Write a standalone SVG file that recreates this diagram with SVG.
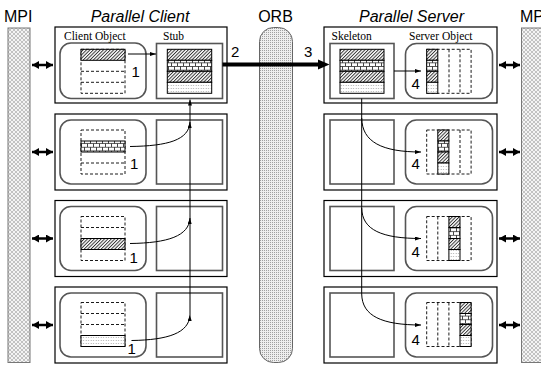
<svg xmlns="http://www.w3.org/2000/svg" width="541" height="367" viewBox="0 0 541 367">
<style>
.outer{fill:#fff;stroke:#000;stroke-width:1.2}
.inner{fill:#fff;stroke:#555;stroke-width:1.6}
.dash{fill:none;stroke:#000;stroke-width:0.9;stroke-dasharray:3 2}
.cell{stroke:#000;stroke-width:1}
.head{font-family:"Liberation Sans",Arial,sans-serif;font-size:16px;fill:#000}
.ital{font-style:italic}
.lbl{font-family:"Liberation Serif","Times New Roman",serif;font-size:11.5px;fill:#000}
.num{font-family:"Liberation Sans",Arial,sans-serif;font-size:15px;fill:#000}
.thin{fill:none;stroke:#000;stroke-width:1}
.mpiarrow{stroke:#000;stroke-width:2.5;fill:none}
</style>
<defs>
<pattern id="hatch" width="2.4" height="2.4" patternUnits="userSpaceOnUse" patternTransform="rotate(45)">
<rect width="2.4" height="2.4" fill="#fff"/><line x1="0.5" y1="0" x2="0.5" y2="2.4" stroke="#222" stroke-width="0.9"/>
</pattern>
<pattern id="brick" width="6" height="7.34" patternUnits="userSpaceOnUse">
<rect width="6" height="7.34" fill="#fff"/>
<path d="M0,0.4H6M0,4.07H6M0.5,0.4V4.07M3.5,4.07V7.34" stroke="#222" stroke-width="0.8" fill="none"/>
</pattern>
<pattern id="dots" width="2.5" height="3" patternUnits="userSpaceOnUse">
<rect width="2.5" height="3" fill="#fff"/><rect x="0.7" y="1" width="0.9" height="0.9" fill="#999"/>
</pattern>
<pattern id="mpi" width="4" height="4" patternUnits="userSpaceOnUse">
<rect width="4" height="4" fill="#f4f4f4"/>
<path d="M0,0L4,4M4,0L0,4" stroke="#a0a0a0" stroke-width="0.6"/>
</pattern>
<pattern id="orb" width="2" height="2" patternUnits="userSpaceOnUse">
<rect width="2" height="2" fill="#eeeeee"/><rect width="1" height="1" fill="#a0a0a0"/>
</pattern>
<marker id="ah" viewBox="0 0 6 4" refX="6" refY="2" markerWidth="6" markerHeight="4" markerUnits="userSpaceOnUse" orient="auto">
<path d="M0,0L6,2L0,4z" fill="#000"/>
</marker>
<marker id="dh" viewBox="0 0 7 8" refX="7" refY="4" markerWidth="7" markerHeight="8" markerUnits="userSpaceOnUse" orient="auto-start-reverse">
<path d="M0,0L7,4L0,8z" fill="#000"/>
</marker>
</defs>
<rect width="541" height="367" fill="#fff"/>

<!-- headings -->
<text class="head" x="4" y="21.5">MPI</text>
<text class="head ital" x="140" y="21.5" text-anchor="middle">Parallel Client</text>
<text class="head" x="275.5" y="21.5" text-anchor="middle">ORB</text>
<text class="head ital" x="411.5" y="21.5" text-anchor="middle">Parallel Server</text>
<text class="head" x="520" y="21.5">MPI</text>

<!-- MPI bars and ORB -->
<g id="mpi-left"><rect x="8" y="28" width="22" height="334.5" fill="url(#mpi)" stroke="#777" stroke-width="1"/></g>
<g id="mpi-right"><rect x="521.5" y="28" width="24" height="334.5" fill="url(#mpi)" stroke="#777" stroke-width="1"/></g>
<g id="orb"><rect x="259.5" y="27.5" width="33" height="335" rx="14" ry="14" fill="url(#orb)" stroke="#666" stroke-width="1"/></g>

<!-- client boxes -->
<g id="client1">
<rect class="outer" x="55" y="27" width="172" height="76"/>
<rect class="inner" x="60" y="43" width="86" height="55.5" rx="11"/>
<rect class="inner" x="156.5" y="43.5" width="66" height="55"/>
<text class="lbl" x="64" y="40">Client Object</text>
<text class="lbl" x="163" y="40">Stub</text>
<rect class="dash" x="81" y="49.3" width="44" height="44"/>
<path class="dash" d="M81,71.3H125M81,82.3H125"/>
<rect class="cell" x="81" y="49.3" width="44" height="11" fill="url(#hatch)"/>
<rect class="cell" x="167.3" y="49.3" width="44.4" height="11" fill="url(#hatch)"/>
<rect class="cell" x="167.3" y="60.3" width="44.4" height="11" fill="url(#brick)"/>
<rect class="cell" x="167.3" y="71.3" width="44.4" height="11" fill="url(#hatch)"/>
<rect class="cell" x="167.3" y="82.3" width="44.4" height="11" fill="url(#dots)"/>
<text class="num" x="131.5" y="76.5">1</text>
</g>
<g id="client2">
<rect class="outer" x="55" y="114" width="172" height="76"/>
<rect class="inner" x="60" y="120" width="86" height="64" rx="11"/>
<rect class="inner" x="156.5" y="120" width="66" height="64"/>
<rect class="dash" x="81" y="130" width="44" height="44"/>
<path class="dash" d="M81,163H125"/>
<rect class="cell" x="81" y="141" width="44" height="11" fill="url(#brick)"/>
<text class="num" x="130" y="168.5">1</text>
</g>
<g id="client3">
<rect class="outer" x="55" y="200.5" width="172" height="76"/>
<rect class="inner" x="60" y="206.5" width="86" height="64" rx="11"/>
<rect class="inner" x="156.5" y="206.5" width="66" height="64"/>
<rect class="dash" x="81" y="216.5" width="44" height="44"/>
<path class="dash" d="M81,227.5H125"/>
<rect class="cell" x="81" y="238.5" width="44" height="11" fill="url(#hatch)"/>
<text class="num" x="129.5" y="262.5">1</text>
</g>
<g id="client4">
<rect class="outer" x="55" y="287" width="172" height="76"/>
<rect class="inner" x="60" y="293" width="86" height="64" rx="11"/>
<rect class="inner" x="156.5" y="293" width="66" height="64"/>
<rect class="dash" x="81" y="302.5" width="44" height="44"/>
<path class="dash" d="M81,313.5H125M81,324.5H125"/>
<rect class="cell" x="81" y="335.5" width="44" height="11" fill="url(#dots)"/>
<text class="num" x="127.5" y="354">1</text>
</g>

<!-- server boxes -->
<g id="server1">
<rect class="outer" x="324" y="27" width="173" height="76"/>
<rect class="inner" x="330" y="43.5" width="64" height="55"/>
<rect class="inner" x="405.5" y="43.5" width="87" height="55" rx="11"/>
<text class="lbl" x="331.5" y="40">Skeleton</text>
<text class="lbl" x="409" y="40">Server Object</text>
<rect class="cell" x="340" y="49.3" width="44" height="11" fill="url(#hatch)"/>
<rect class="cell" x="340" y="60.3" width="44" height="11" fill="url(#brick)"/>
<rect class="cell" x="340" y="71.3" width="44" height="11" fill="url(#hatch)"/>
<rect class="cell" x="340" y="82.3" width="44" height="11" fill="url(#dots)"/>
<rect class="dash" x="426.7" y="49.3" width="44.4" height="44"/>
<path class="dash" d="M449,49.3V93.3M460,49.3V93.3"/>
<rect class="cell" x="426.7" y="49.3" width="11.1" height="11" fill="url(#hatch)"/>
<rect class="cell" x="426.7" y="60.3" width="11.1" height="11" fill="url(#brick)"/>
<rect class="cell" x="426.7" y="71.3" width="11.1" height="11" fill="url(#hatch)"/>
<rect class="cell" x="426.7" y="82.3" width="11.1" height="11" fill="url(#dots)"/>
<text class="num" x="411.5" y="88.5">4</text>
</g>
<g id="server2">
<rect class="outer" x="324" y="114" width="173" height="76"/>
<rect class="inner" x="330" y="120" width="64" height="64"/>
<rect class="inner" x="405.5" y="120" width="87" height="64" rx="11"/>
<rect class="dash" x="426.7" y="130" width="44.4" height="44"/>
<path class="dash" d="M460,130V174"/>
<rect class="cell" x="437.8" y="130" width="11.1" height="11" fill="url(#hatch)"/>
<rect class="cell" x="437.8" y="141" width="11.1" height="11" fill="url(#brick)"/>
<rect class="cell" x="437.8" y="152" width="11.1" height="11" fill="url(#hatch)"/>
<rect class="cell" x="437.8" y="163" width="11.1" height="11" fill="url(#dots)"/>
<text class="num" x="411.5" y="168.5">4</text>
</g>
<g id="server3">
<rect class="outer" x="324" y="200.5" width="173" height="76"/>
<rect class="inner" x="330" y="206.5" width="64" height="64"/>
<rect class="inner" x="405.5" y="206.5" width="87" height="64" rx="11"/>
<rect class="dash" x="426.7" y="216.5" width="44.4" height="44"/>
<path class="dash" d="M437.8,216.5V260.5"/>
<rect class="cell" x="448.9" y="216.5" width="11.1" height="11" fill="url(#hatch)"/>
<rect class="cell" x="448.9" y="227.5" width="11.1" height="11" fill="url(#brick)"/>
<rect class="cell" x="448.9" y="238.5" width="11.1" height="11" fill="url(#hatch)"/>
<rect class="cell" x="448.9" y="249.5" width="11.1" height="11" fill="url(#dots)"/>
<text class="num" x="411.5" y="256.5">4</text>
</g>
<g id="server4">
<rect class="outer" x="324" y="287" width="173" height="76"/>
<rect class="inner" x="330" y="293" width="64" height="64"/>
<rect class="inner" x="405.5" y="293" width="87" height="64" rx="11"/>
<rect class="dash" x="426.7" y="302.5" width="44.4" height="44"/>
<path class="dash" d="M437.8,302.5V346.5M448.9,302.5V346.5"/>
<rect class="cell" x="460" y="302.5" width="11.1" height="11" fill="url(#hatch)"/>
<rect class="cell" x="460" y="313.5" width="11.1" height="11" fill="url(#brick)"/>
<rect class="cell" x="460" y="324.5" width="11.1" height="11" fill="url(#hatch)"/>
<rect class="cell" x="460" y="335.5" width="11.1" height="11" fill="url(#dots)"/>
<text class="num" x="411.5" y="344.5">4</text>
</g>

<!-- connectors -->
<g id="connectors">
<path class="mpiarrow" d="M32,65H53" marker-start="url(#dh)" marker-end="url(#dh)"/>
<path class="mpiarrow" d="M32,152H53" marker-start="url(#dh)" marker-end="url(#dh)"/>
<path class="mpiarrow" d="M32,238.5H53" marker-start="url(#dh)" marker-end="url(#dh)"/>
<path class="mpiarrow" d="M32,325H53" marker-start="url(#dh)" marker-end="url(#dh)"/>
<path class="mpiarrow" d="M499,65H520" marker-start="url(#dh)" marker-end="url(#dh)"/>
<path class="mpiarrow" d="M499,152H520" marker-start="url(#dh)" marker-end="url(#dh)"/>
<path class="mpiarrow" d="M499,238.5H520" marker-start="url(#dh)" marker-end="url(#dh)"/>
<path class="mpiarrow" d="M499,325H520" marker-start="url(#dh)" marker-end="url(#dh)"/>

<path class="thin" d="M128,54H156" marker-end="url(#ah)"/>
<path class="thin" d="M190,315V99.5" marker-end="url(#ah)"/>
<path class="thin" d="M130,146.5C168,146 189,140 190,122" marker-end="url(#ah)"/>
<path class="thin" d="M130,243.5C168,243 189,236 190,218" marker-end="url(#ah)"/>
<path class="thin" d="M131.5,340.5C168,340 189,333 190,315" marker-end="url(#ah)"/>

<path d="M222.5,64.5H319" stroke="#000" stroke-width="4" fill="none"/>
<path d="M318,59.5L329.5,64.5L318,69.5z" fill="#000"/>
<text class="num" x="231" y="57">2</text>
<text class="num" x="304" y="57">3</text>

<path class="thin" d="M394,71H421" marker-end="url(#ah)"/>
<path class="thin" d="M361.7,98.5V294"/>
<path class="thin" d="M361.7,118C362,142 382,152 421,152" marker-end="url(#ah)"/>
<path class="thin" d="M361.7,208C362,230 382,238.5 421,238.5" marker-end="url(#ah)"/>
<path class="thin" d="M361.7,294C362,316 382,325 421,325" marker-end="url(#ah)"/>
</g>
</svg>
